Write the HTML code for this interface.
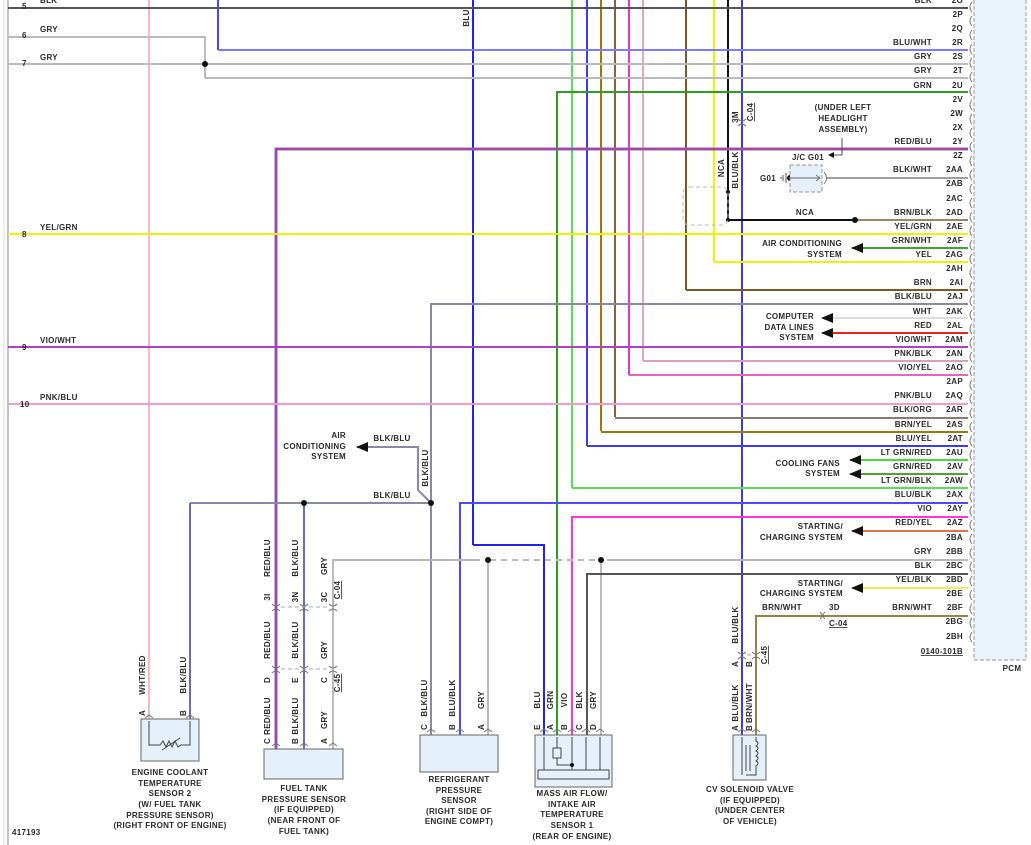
<!DOCTYPE html>
<html><head><meta charset="utf-8"><style>
html,body{margin:0;padding:0;background:#fff;}
svg{display:block;}
text{font-family:"Liberation Sans",sans-serif;font-size:8px;font-weight:bold;fill:#2a2a2a;letter-spacing:.3px;}
.r{text-anchor:end}.m{text-anchor:middle}
.w{fill:none;stroke-width:2}
.c{fill:none;stroke:#777;stroke-width:1}
</style></head><body>
<svg width="1031" height="845" viewBox="0 0 1031 845" xmlns="http://www.w3.org/2000/svg">
<defs>
<marker id="ar" markerUnits="userSpaceOnUse" markerWidth="12" markerHeight="12" refX="1" refY="6" orient="auto"><path d="M12,1 L0,6 L12,11 Z" fill="#111"/></marker>
<marker id="arE" markerUnits="userSpaceOnUse" markerWidth="12" markerHeight="12" refX="11" refY="6" orient="auto"><path d="M0,1 L12,6 L0,11 Z" fill="#111"/></marker>
</defs>
<line x1="8" y1="0" x2="8" y2="845" stroke="#888" stroke-width="1"/>
<line x1="4" y1="0" x2="4" y2="845" stroke="#ddd" stroke-width="1"/>
<rect x="974" y="-2" width="52" height="662" fill="#e8f3fb" stroke="#999" stroke-dasharray="4,2"/>
<text x="1012" y="671" class="m">PCM</text>

<g class="w">
<line x1="149" y1="0" x2="149" y2="721" stroke="#f2bcc6"/>
<line x1="218" y1="0" x2="218" y2="50" stroke="#4646ff"/>
<polyline points="8,37 205,37 205,78" stroke="#bbb"/>
<line x1="473" y1="0" x2="473" y2="545" stroke="#2222ee"/>
<polyline points="473,545 544,545 544,737" stroke="#2222ee"/>
<line x1="572" y1="0" x2="572" y2="488" stroke="#55e055"/>
<line x1="587" y1="0" x2="587" y2="446" stroke="#3a3aee"/>
<line x1="601" y1="0" x2="601" y2="431" stroke="#9a7a10"/>
<line x1="615" y1="0" x2="615" y2="417" stroke="#8a6040"/>
<line x1="629" y1="0" x2="629" y2="375" stroke="#ee33cc"/>
<line x1="643" y1="0" x2="643" y2="361" stroke="#e8a8b8"/>
<line x1="686" y1="0" x2="686" y2="290" stroke="#7a5a20"/>
<line x1="714" y1="0" x2="714" y2="262" stroke="#f2f200"/>
<line x1="728" y1="0" x2="728" y2="220" stroke="#111"/>
<line x1="742" y1="0" x2="742" y2="737" stroke="#3a3aee"/>
</g>

<g class="w">
<line x1="8" y1="8" x2="968" y2="8" stroke="#555"/>
<line x1="218" y1="50" x2="968" y2="50" stroke="#7b7bff"/>
<line x1="8" y1="64" x2="968" y2="64" stroke="#bbb"/>
<line x1="205" y1="78" x2="968" y2="78" stroke="#bbb"/>
<polyline points="968,92 557,92 557,737" stroke="#2e9e1e"/>
<polyline points="968,149 276,149 276,749" stroke="#6a6aff" stroke-width="3"/>
<polyline points="968,149 276,149 276,749" stroke="#e22" stroke-width="1"/>
<line x1="826" y1="178" x2="968" y2="178" stroke="#666" stroke-width="1.3"/>
<line x1="728" y1="220" x2="855" y2="220" stroke="#111"/>
<line x1="855" y1="220" x2="968" y2="220" stroke="#a08560"/>
<line x1="8" y1="234" x2="968" y2="234" stroke="#f2f200"/>
<line x1="852" y1="248" x2="968" y2="248" stroke="#3aa82a" marker-start="url(#ar)"/>
<line x1="714" y1="262" x2="968" y2="262" stroke="#f2f200"/>
<line x1="686" y1="290" x2="968" y2="290" stroke="#7a5a20"/>
<polyline points="968,304 431,304 431,737" stroke="#8888a8"/>
<polyline points="431,503 418,490 418,447 357,447" stroke="#8888a8" marker-end="url(#arE)"/>
<line x1="822" y1="318" x2="968" y2="318" stroke="#ddd" marker-start="url(#ar)"/>
<line x1="822" y1="333" x2="968" y2="333" stroke="#ee2222" marker-start="url(#ar)"/>
<line x1="8" y1="347" x2="968" y2="347" stroke="#b040c0"/>
<line x1="643" y1="361" x2="968" y2="361" stroke="#d8a0c0"/>
<line x1="629" y1="375" x2="968" y2="375" stroke="#ee60c0"/>
<line x1="8" y1="404" x2="968" y2="404" stroke="#f29ad0"/>
<line x1="615" y1="418" x2="968" y2="418" stroke="#8a7a70"/>
<line x1="601" y1="432" x2="968" y2="432" stroke="#9a7a10"/>
<line x1="587" y1="446" x2="968" y2="446" stroke="#3a3aee"/>
<line x1="850" y1="460" x2="968" y2="460" stroke="#44dd33" marker-start="url(#ar)"/>
<line x1="850" y1="474" x2="968" y2="474" stroke="#4aa830" marker-start="url(#ar)"/>
<line x1="572" y1="488" x2="968" y2="488" stroke="#55e055"/>
<line x1="190" y1="503" x2="431" y2="503" stroke="#8888a8"/>
<polyline points="190,503 190,721" stroke="#6a6ac0"/>
<line x1="304" y1="503" x2="304" y2="749" stroke="#6a6ac0"/>
<polyline points="968,503 460,503 460,737" stroke="#4a4aff"/>
<polyline points="968,517 572,517 572,737" stroke="#ff33dd"/>
<line x1="852" y1="531" x2="968" y2="531" stroke="#e07050" marker-start="url(#ar)"/>
<polyline points="333,749 333,560 480,560" stroke="#bbb"/>
<line x1="490" y1="560" x2="598" y2="560" stroke="#bbb" stroke-dasharray="6,5"/>
<line x1="607" y1="560" x2="968" y2="560" stroke="#bbb"/>
<line x1="488" y1="560" x2="488" y2="737" stroke="#bbb"/>
<line x1="601" y1="560" x2="601" y2="737" stroke="#bbb"/>
<polyline points="968,574 587,574 587,737" stroke="#555"/>
<line x1="852" y1="588" x2="968" y2="588" stroke="#eeee55" marker-start="url(#ar)"/>
<polyline points="968,616 756,616 756,737" stroke="#a08040"/>
</g>

<g fill="#111">
<circle cx="205" cy="64" r="3"/><circle cx="304" cy="503" r="3"/><circle cx="431" cy="503" r="3"/>
<circle cx="488" cy="560" r="3"/><circle cx="601" cy="560" r="3"/><circle cx="855" cy="220" r="3"/>
<circle cx="728" cy="192" r="2"/><circle cx="728" cy="220" r="2"/><circle cx="790" cy="178" r="3"/>
</g>

<rect x="683" y="187" width="45" height="38" rx="6" fill="none" stroke="#bbb" stroke-dasharray="4,3"/>
<rect x="790" y="165" width="32" height="27" fill="#e4f0fa" stroke="#999" stroke-dasharray="4,2"/>
<line x1="790" y1="178" x2="820" y2="178" stroke="#666"/>
<path d="M786,173 V183 M783,175 V181 M781,177 V179" stroke="#555"/>
<path d="M816,175 L820,178 L816,181 M824,172 Q829,178 824,184" class="c"/>
<path d="M842,138 V155 H834" stroke="#555" fill="none"/>
<path d="M834,152 L828,155 L834,158Z" fill="#111"/>
<text x="843" y="110" class="m">(UNDER LEFT</text>
<text x="843" y="121" class="m">HEADLIGHT</text>
<text x="843" y="132" class="m">ASSEMBLY)</text>
<text x="808" y="160" class="m">J/C G01</text>
<text x="776" y="181" class="r">G01</text>
<text x="805" y="215" class="m">NCA</text>

<g class="c">
<path d="M972,2 q-4,5 0,10 M972,16 q-4,5 0,10 M972,30 q-4,5 0,10 M972,44 q-4,5 0,10 M972,58 q-4,5 0,10 M972,72 q-4,5 0,10 M972,86 q-4,5 0,10 M972,100 q-4,5 0,10 M972,114 q-4,5 0,10 M972,128 q-4,5 0,10 M972,142 q-4,5 0,10 M972,156 q-4,5 0,10 M972,170 q-4,5 0,10 M972,184 q-4,5 0,10 M972,198 q-4,5 0,10 M972,212 q-4,5 0,10 M972,226 q-4,5 0,10 M972,240 q-4,5 0,10 M972,254 q-4,5 0,10 M972,268 q-4,5 0,10 M972,282 q-4,5 0,10 M972,296 q-4,5 0,10 M972,310 q-4,5 0,10 M972,324 q-4,5 0,10 M972,338 q-4,5 0,10 M972,352 q-4,5 0,10 M972,366 q-4,5 0,10 M972,380 q-4,5 0,10 M972,394 q-4,5 0,10 M972,408 q-4,5 0,10 M972,422 q-4,5 0,10 M972,436 q-4,5 0,10 M972,450 q-4,5 0,10 M972,464 q-4,5 0,10 M972,478 q-4,5 0,10 M972,492 q-4,5 0,10 M972,506 q-4,5 0,10 M972,520 q-4,5 0,10 M972,534 q-4,5 0,10 M972,548 q-4,5 0,10 M972,562 q-4,5 0,10 M972,576 q-4,5 0,10 M972,590 q-4,5 0,10 M972,604 q-4,5 0,10 M972,618 q-4,5 0,10 M972,632 q-4,5 0,10"/>
</g>
<g>
<text x="963" y="3" class="r">2O</text><text x="963" y="17" class="r">2P</text><text x="963" y="31" class="r">2Q</text><text x="963" y="45" class="r">2R</text><text x="963" y="59" class="r">2S</text><text x="963" y="73" class="r">2T</text><text x="963" y="88" class="r">2U</text><text x="963" y="102" class="r">2V</text><text x="963" y="116" class="r">2W</text><text x="963" y="130" class="r">2X</text><text x="963" y="144" class="r">2Y</text><text x="963" y="158" class="r">2Z</text><text x="963" y="172" class="r">2AA</text><text x="963" y="186" class="r">2AB</text><text x="963" y="201" class="r">2AC</text><text x="963" y="215" class="r">2AD</text><text x="963" y="229" class="r">2AE</text><text x="963" y="243" class="r">2AF</text><text x="963" y="257" class="r">2AG</text><text x="963" y="271" class="r">2AH</text><text x="963" y="285" class="r">2AI</text><text x="963" y="299" class="r">2AJ</text><text x="963" y="314" class="r">2AK</text><text x="963" y="328" class="r">2AL</text><text x="963" y="342" class="r">2AM</text><text x="963" y="356" class="r">2AN</text><text x="963" y="370" class="r">2AO</text><text x="963" y="384" class="r">2AP</text><text x="963" y="398" class="r">2AQ</text><text x="963" y="412" class="r">2AR</text><text x="963" y="427" class="r">2AS</text><text x="963" y="441" class="r">2AT</text><text x="963" y="455" class="r">2AU</text><text x="963" y="469" class="r">2AV</text><text x="963" y="483" class="r">2AW</text><text x="963" y="497" class="r">2AX</text><text x="963" y="511" class="r">2AY</text><text x="963" y="525" class="r">2AZ</text><text x="963" y="540" class="r">2BA</text><text x="963" y="554" class="r">2BB</text><text x="963" y="568" class="r">2BC</text><text x="963" y="582" class="r">2BD</text><text x="963" y="596" class="r">2BE</text><text x="963" y="610" class="r">2BF</text><text x="963" y="624" class="r">2BG</text><text x="963" y="639" class="r">2BH</text>
<text x="963" y="654" class="r" text-decoration="underline">0140-101B</text>
<text x="932" y="3" class="r">BLK</text><text x="932" y="45" class="r">BLU/WHT</text><text x="932" y="59" class="r">GRY</text><text x="932" y="73" class="r">GRY</text><text x="932" y="88" class="r">GRN</text><text x="932" y="144" class="r">RED/BLU</text><text x="932" y="172" class="r">BLK/WHT</text><text x="932" y="215" class="r">BRN/BLK</text><text x="932" y="229" class="r">YEL/GRN</text><text x="932" y="243" class="r">GRN/WHT</text><text x="932" y="257" class="r">YEL</text><text x="932" y="285" class="r">BRN</text><text x="932" y="299" class="r">BLK/BLU</text><text x="932" y="314" class="r">WHT</text><text x="932" y="328" class="r">RED</text><text x="932" y="342" class="r">VIO/WHT</text><text x="932" y="356" class="r">PNK/BLK</text><text x="932" y="370" class="r">VIO/YEL</text><text x="932" y="398" class="r">PNK/BLU</text><text x="932" y="412" class="r">BLK/ORG</text><text x="932" y="427" class="r">BRN/YEL</text><text x="932" y="441" class="r">BLU/YEL</text><text x="932" y="455" class="r">LT GRN/RED</text><text x="932" y="469" class="r">GRN/RED</text><text x="932" y="483" class="r">LT GRN/BLK</text><text x="932" y="497" class="r">BLU/BLK</text><text x="932" y="511" class="r">VIO</text><text x="932" y="525" class="r">RED/YEL</text><text x="932" y="554" class="r">GRY</text><text x="932" y="568" class="r">BLK</text><text x="932" y="582" class="r">YEL/BLK</text><text x="932" y="610" class="r">BRN/WHT</text>
</g>

<text x="842" y="246" class="r">AIR CONDITIONING</text><text x="842" y="257" class="r">SYSTEM</text>
<text x="814" y="319" class="r">COMPUTER</text><text x="814" y="330" class="r">DATA LINES</text><text x="814" y="340" class="r">SYSTEM</text>
<text x="840" y="466" class="r">COOLING FANS</text><text x="840" y="476" class="r">SYSTEM</text>
<text x="843" y="529" class="r">STARTING/</text><text x="843" y="540" class="r">CHARGING SYSTEM</text>
<text x="843" y="586" class="r">STARTING/</text><text x="843" y="596" class="r">CHARGING SYSTEM</text>
<text x="346" y="438" class="r">AIR</text><text x="346" y="449" class="r">CONDITIONING</text><text x="346" y="459" class="r">SYSTEM</text>
<text x="392" y="441" class="m">BLK/BLU</text><text x="392" y="498" class="m">BLK/BLU</text>
<text x="762" y="610">BRN/WHT</text><text x="829" y="610">3D</text>
<text x="829" y="626" text-decoration="underline">C-04</text>
<path d="M820,612 q4,3.5 0,7 M825,612 q-4,3.5 0,7" class="c"/>

<text x="22" y="9">5</text><text x="22" y="38">6</text><text x="22" y="66">7</text><text x="22" y="237">8</text><text x="22" y="350">9</text><text x="20" y="407">10</text>
<text x="40" y="3">BLK</text><text x="40" y="32">GRY</text><text x="40" y="60">GRY</text><text x="40" y="230">YEL/GRN</text><text x="40" y="343">VIO/WHT</text><text x="40" y="400">PNK/BLU</text>
<text x="12" y="835">417193</text>

<g>
<text transform="translate(469,18) rotate(-90)" class="m">BLU</text>
<text transform="translate(724,168) rotate(-90)" class="m">NCA</text>
<text transform="translate(738,170) rotate(-90)" class="m">BLU/BLK</text>
<text transform="translate(738,117) rotate(-90)" class="m">3M</text>
<text transform="translate(753,112) rotate(-90)" class="m" text-decoration="underline">C-04</text>
<text transform="translate(428,468) rotate(-90)" class="m">BLK/BLU</text>
<text transform="translate(145,675) rotate(-90)" class="m">WHT/RED</text>
<text transform="translate(186,675) rotate(-90)" class="m">BLK/BLU</text>
<text transform="translate(145,713) rotate(-90)" class="m">A</text>
<text transform="translate(186,713) rotate(-90)" class="m">B</text>
<text transform="translate(270,558) rotate(-90)" class="m">RED/BLU</text>
<text transform="translate(270,597) rotate(-90)" class="m">3I</text>
<text transform="translate(270,640) rotate(-90)" class="m">RED/BLU</text>
<text transform="translate(270,680) rotate(-90)" class="m">D</text>
<text transform="translate(270,716) rotate(-90)" class="m">RED/BLU</text>
<text transform="translate(270,741) rotate(-90)" class="m">C</text>
<text transform="translate(298,558) rotate(-90)" class="m">BLK/BLU</text>
<text transform="translate(298,597) rotate(-90)" class="m">3N</text>
<text transform="translate(298,640) rotate(-90)" class="m">BLK/BLU</text>
<text transform="translate(298,680) rotate(-90)" class="m">E</text>
<text transform="translate(298,716) rotate(-90)" class="m">BLK/BLU</text>
<text transform="translate(298,741) rotate(-90)" class="m">B</text>
<text transform="translate(327,566) rotate(-90)" class="m">GRY</text>
<text transform="translate(327,597) rotate(-90)" class="m">3C</text>
<text transform="translate(340,590) rotate(-90)" class="m" text-decoration="underline">C-04</text>
<text transform="translate(327,650) rotate(-90)" class="m">GRY</text>
<text transform="translate(327,680) rotate(-90)" class="m">C</text>
<text transform="translate(340,683) rotate(-90)" class="m" text-decoration="underline">C-45</text>
<text transform="translate(327,720) rotate(-90)" class="m">GRY</text>
<text transform="translate(327,741) rotate(-90)" class="m">A</text>
<text transform="translate(427,698) rotate(-90)" class="m">BLK/BLU</text>
<text transform="translate(427,727) rotate(-90)" class="m">C</text>
<text transform="translate(455,698) rotate(-90)" class="m">BLU/BLK</text>
<text transform="translate(455,727) rotate(-90)" class="m">B</text>
<text transform="translate(484,700) rotate(-90)" class="m">GRY</text>
<text transform="translate(484,727) rotate(-90)" class="m">A</text>
<text transform="translate(540,700) rotate(-90)" class="m">BLU</text>
<text transform="translate(540,727) rotate(-90)" class="m">E</text>
<text transform="translate(553,700) rotate(-90)" class="m">GRN</text>
<text transform="translate(553,727) rotate(-90)" class="m">A</text>
<text transform="translate(567,700) rotate(-90)" class="m">VIO</text>
<text transform="translate(567,727) rotate(-90)" class="m">B</text>
<text transform="translate(582,700) rotate(-90)" class="m">BLK</text>
<text transform="translate(582,727) rotate(-90)" class="m">C</text>
<text transform="translate(596,700) rotate(-90)" class="m">GRY</text>
<text transform="translate(596,727) rotate(-90)" class="m">D</text>
<text transform="translate(738,625) rotate(-90)" class="m">BLU/BLK</text>
<text transform="translate(738,664) rotate(-90)" class="m">A</text>
<text transform="translate(752,664) rotate(-90)" class="m">B</text>
<text transform="translate(767,655) rotate(-90)" class="m" text-decoration="underline">C-45</text>
<text transform="translate(738,703) rotate(-90)" class="m">BLU/BLK</text>
<text transform="translate(738,728) rotate(-90)" class="m">A</text>
<text transform="translate(752,703) rotate(-90)" class="m">BRN/WHT</text>
<text transform="translate(752,728) rotate(-90)" class="m">B</text>
</g>

<g class="c">
<path d="M738,119 q4,4 8,0 M738,126 q4,-4 8,0"/>
<path d="M272,604 q4,4 8,0 M272,611 q4,-4 8,0 M300,604 q4,4 8,0 M300,611 q4,-4 8,0 M329,604 q4,4 8,0 M329,611 q4,-4 8,0"/>
<path d="M272,666 q4,4 8,0 M272,673 q4,-4 8,0 M300,666 q4,4 8,0 M300,673 q4,-4 8,0 M329,666 q4,4 8,0 M329,673 q4,-4 8,0"/>
<path d="M738,652 q4,4 8,0 M738,659 q4,-4 8,0 M752,652 q4,4 8,0 M752,659 q4,-4 8,0"/>
</g>
<g stroke="#aaa" stroke-dasharray="4,3"><line x1="281" y1="607" x2="329" y2="607"/><line x1="281" y1="669" x2="329" y2="669"/><line x1="747" y1="655" x2="752" y2="655"/></g>

<rect x="141" y="719" width="58" height="42" fill="#e4f0fa" stroke="#666"/>
<path d="M149,721 V745 H160 l3,-4 3,6 3,-6 3,6 3,-6 3,6 3,-2 H190 V721" fill="none" stroke="#444"/>
<line x1="162" y1="750" x2="180" y2="738" stroke="#444"/>
<text x="170" y="775" class="m">ENGINE COOLANT</text><text x="170" y="786" class="m">TEMPERATURE</text><text x="170" y="796" class="m">SENSOR 2</text><text x="170" y="807" class="m">(W/ FUEL TANK</text><text x="170" y="818" class="m">PRESSURE SENSOR)</text><text x="170" y="828" class="m">(RIGHT FRONT OF ENGINE)</text>

<rect x="264" y="749" width="79" height="30" fill="#e4f0fa" stroke="#666"/>
<text x="304" y="791" class="m">FUEL TANK</text><text x="304" y="802" class="m">PRESSURE SENSOR</text><text x="304" y="812" class="m">(IF EQUIPPED)</text><text x="304" y="823" class="m">(NEAR FRONT OF</text><text x="304" y="834" class="m">FUEL TANK)</text>

<rect x="420" y="735" width="78" height="37" fill="#e4f0fa" stroke="#666"/>
<text x="459" y="782" class="m">REFRIGERANT</text><text x="459" y="793" class="m">PRESSURE</text><text x="459" y="803" class="m">SENSOR</text><text x="459" y="814" class="m">(RIGHT SIDE OF</text><text x="459" y="824" class="m">ENGINE COMPT)</text>

<rect x="535" y="735" width="77" height="52" fill="#e4f0fa" stroke="#666"/>
<rect x="538" y="770" width="71" height="9" fill="#e4f0fa" stroke="#444"/>
<g stroke="#444" fill="none">
<line x1="544" y1="737" x2="544" y2="770"/><line x1="586" y1="737" x2="586" y2="770"/><line x1="600" y1="737" x2="600" y2="770"/>
<path d="M557,737 V748 M557,758 V765 H572 M572,737 V770"/>
<rect x="553" y="748" width="8" height="10"/>
</g>
<circle cx="572" cy="765" r="2" fill="#111"/>
<text x="572" y="796" class="m">MASS AIR FLOW/</text><text x="572" y="807" class="m">INTAKE AIR</text><text x="572" y="817" class="m">TEMPERATURE</text><text x="572" y="828" class="m">SENSOR 1</text><text x="572" y="839" class="m">(REAR OF ENGINE)</text>

<rect x="733" y="735" width="33" height="45" fill="#e4f0fa" stroke="#666"/>
<path d="M742,737 V775 M756,737 V741 q4,2 0,5 q4,2 0,5 q4,2 0,5 q4,2 0,5 q4,2 0,5 V775 H746 M746,745 V771 M750,745 V771" fill="none" stroke="#444"/>
<text x="750" y="792" class="m">CV SOLENOID VALVE</text><text x="750" y="803" class="m">(IF EQUIPPED)</text><text x="750" y="813" class="m">(UNDER CENTER</text><text x="750" y="824" class="m">OF VEHICLE)</text>

<g class="c" stroke="#555">
<path d="M145,718 l4,-3 4,3 M186,718 l4,-3 4,3 M272,746 l4,-3 4,3 M300,746 l4,-3 4,3 M329,746 l4,-3 4,3 M427,732 l4,-3 4,3 M456,732 l4,-3 4,3 M484,732 l4,-3 4,3 M540,732 l4,-3 4,3 M553,732 l4,-3 4,3 M568,732 l4,-3 4,3 M582,732 l4,-3 4,3 M596,732 l4,-3 4,3 M738,732 l4,-3 4,3 M752,732 l4,-3 4,3"/>
</g>
</svg>
</body></html>
